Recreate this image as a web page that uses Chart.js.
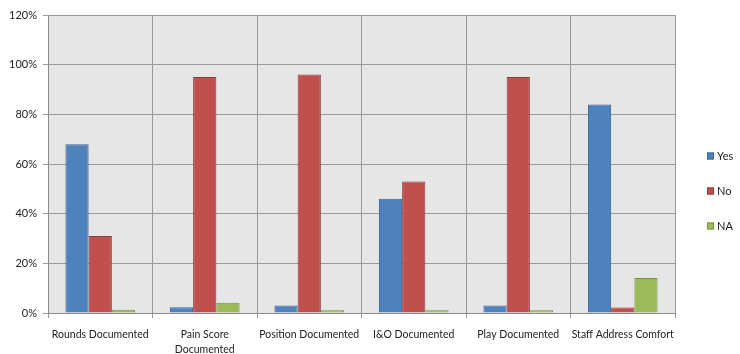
<!DOCTYPE html>
<html>
<head>
<meta charset="utf-8">
<script src="https://cdn.jsdelivr.net/npm/chart.js@4/dist/chart.umd.min.js"></script>
<style>
  html, body { margin: 0; padding: 0; background: #ffffff; }
  #wrap { width: 740px; height: 354px; position: relative; }
</style>
</head>
<body>
<div id="wrap"><canvas id="c" width="740" height="354"></canvas></div>
<script>
// Audit items (x-axis categories)
const categories = [
  'Rounds Documented',
  ['Pain Score', 'Documented'],
  'Position Documented',
  'I&O Documented',
  'Play Documented',
  'Staff Address Comfort'
];

// Percentage of charts per answer
const yesValues = [68, 2.3, 3, 46, 3, 84];
const noValues  = [31, 95, 96, 53, 95, 2.2];
const naValues  = [1.3, 4.1, 1.1, 1.1, 1.1, 14.1];

const seriesNames = ['Yes', 'No', 'NA'];
const yTicks = [0, 20, 40, 60, 80, 100, 120];

const FONT = 'Lato, "Liberation Sans", sans-serif';

// Grey plot-area fill behind the bars
const plotBackground = {
  id: 'plotBackground',
  beforeDraw(chart) {
    const { ctx, chartArea: a } = chart;
    ctx.save();
    ctx.fillStyle = '#e6e6e6';
    ctx.fillRect(a.left, a.top, a.right - a.left, a.bottom - a.top);
    ctx.restore();
  }
};

// Vertical legend at the right, small square swatches
const sideLegend = {
  id: 'sideLegend',
  afterDraw(chart) {
    const { ctx } = chart;
    const x = 707, y0 = 156, step = 35, box = 7;
    ctx.save();
    ctx.font = '11px ' + FONT;
    ctx.textBaseline = 'middle';
    chart.data.datasets.forEach((ds, i) => {
      const y = y0 + i * step;
      ctx.fillStyle = ds.backgroundColor;
      ctx.fillRect(x, y - box / 2, box, box);
      ctx.strokeStyle = ds.borderColor;
      ctx.lineWidth = 1;
      ctx.strokeRect(x + 0.5, y - box / 2 + 0.5, box - 1, box - 1);
      ctx.fillStyle = '#222222';
      ctx.fillText(ds.label, x + 10, y + 0.5);
    });
    ctx.restore();
  }
};

const ctx = document.getElementById('c').getContext('2d');
new Chart(ctx, {
  type: 'bar',
  data: {
    labels: categories,
    datasets: [
      { label: seriesNames[0], data: yesValues, backgroundColor: '#4f81bd', borderColor: '#3a6596' },
      { label: seriesNames[1], data: noValues,  backgroundColor: '#c0504d', borderColor: '#8e3a38' },
      { label: seriesNames[2], data: naValues,  backgroundColor: '#9bbb59', borderColor: '#76923f' }
    ].map(d => Object.assign(d, { borderWidth: 1, categoryPercentage: 0.667, barPercentage: 1 }))
  },
  options: {
    responsive: false,
    animation: false,
    devicePixelRatio: 1,
    layout: { padding: { top: 15, right: 65, left: 0, bottom: 0 } },
    plugins: {
      legend: { display: false },
      tooltip: { enabled: false }
    },
    scales: {
      x: {
        offset: true,
        grid: {
          offset: true,
          color: '#9a9a9a',
          lineWidth: 1,
          tickLength: 5,
          drawOnChartArea: true
        },
        border: { color: '#8a8a8a', width: 1 },
        ticks: {
          color: '#222222',
          font: { family: FONT, size: 10.5, lineHeight: 1.45 },
          maxRotation: 0,
          autoSkip: false,
          padding: 9
        },
        afterFit(scale) { scale.height = 41; }
      },
      y: {
        min: 0,
        max: 120,
        afterBuildTicks(scale) { scale.ticks = yTicks.map(v => ({ value: v })); },
        grid: { color: '#9a9a9a', lineWidth: 1, tickLength: 5 },
        border: { color: '#8a8a8a', width: 1 },
        ticks: {
          color: '#222222',
          font: { family: FONT, size: 11 },
          padding: 6,
          callback: v => v + '%'
        },
        afterFit(scale) { scale.width = 48; }
      }
    }
  },
  plugins: [plotBackground, sideLegend]
});
</script>
</body>
</html>
